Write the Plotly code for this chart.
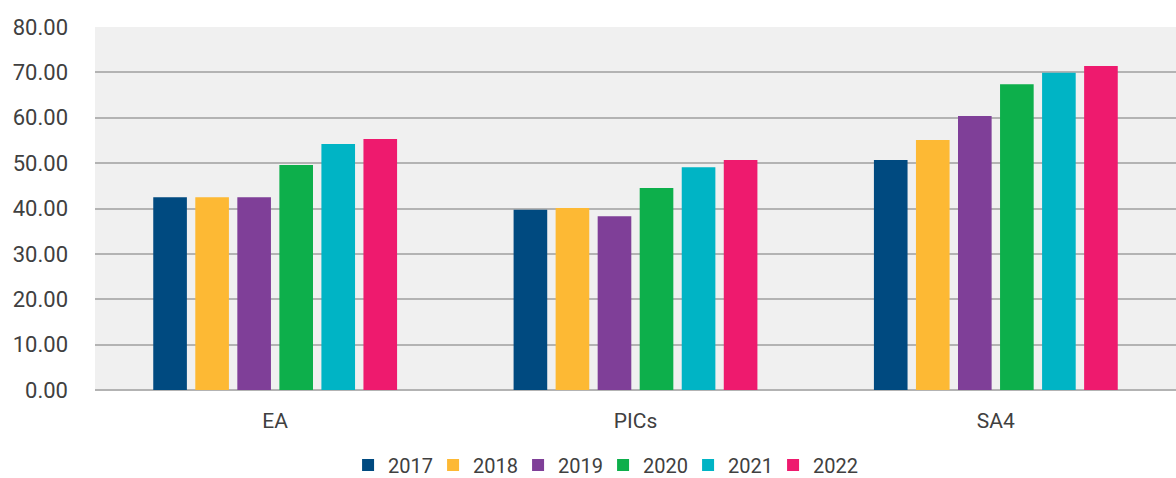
import plotly.graph_objects as go

categories = ["EA", "PICs", "SA4"]
years = ["2017", "2018", "2019", "2020", "2021", "2022"]
v2017 = [42.5, 39.7, 50.7]
v2018 = [42.5, 40.1, 55.1]
v2019 = [42.5, 38.3, 60.4]
v2020 = [49.6, 44.5, 67.4]
v2021 = [54.2, 49.1, 69.9]
v2022 = [55.3, 50.7, 71.4]
series = [v2017, v2018, v2019, v2020, v2021, v2022]
colors = ["#004a80", "#fdb934", "#7f3f98", "#0daf4b", "#00b4c5", "#ee1a6e"]
y_ticks = [0, 10, 20, 30, 40, 50, 60, 70, 80]

fig = go.Figure()
for yr, vals, c in zip(years, series, colors):
    fig.add_trace(go.Bar(name=yr, x=categories, y=vals, marker=dict(color=c, line=dict(width=0))))

font_family = "Roboto, 'Noto Sans', sans-serif"
fig.update_layout(
    width=1176, height=478,
    barmode="group", bargap=0.3, bargroupgap=0.2,
    paper_bgcolor="white", plot_bgcolor="#f0f0f0",
    margin=dict(l=95, r=0, t=27, b=88),
    font=dict(family=font_family, size=21, color="#404040"),
    legend=dict(orientation="h", x=0.47, xanchor="center", xref="paper",
                y=0.027, yanchor="middle", yref="container",
                entrywidth=40, entrywidthmode="pixels",
                font=dict(size=20, color="#404040"), itemwidth=30, traceorder="normal"),
    showlegend=True,
)
fig.update_yaxes(range=[0, 80], tickvals=y_ticks, ticktext=[f"{v:.2f}" for v in y_ticks],
                 showgrid=True, gridcolor="#b3b3b3", gridwidth=1.5, zeroline=True,
                 zerolinecolor="#b3b3b3", zerolinewidth=1.5, ticklabelstandoff=26,
                 tickfont=dict(size=22, color="#404040"))
fig.update_xaxes(showgrid=False, ticklabelstandoff=16, tickfont=dict(size=21, color="#404040"))

fig.write_html("out.html", config={"displayModeBar": False},
               post_script="document.body.style.margin='0';document.body.style.overflow='hidden';")
